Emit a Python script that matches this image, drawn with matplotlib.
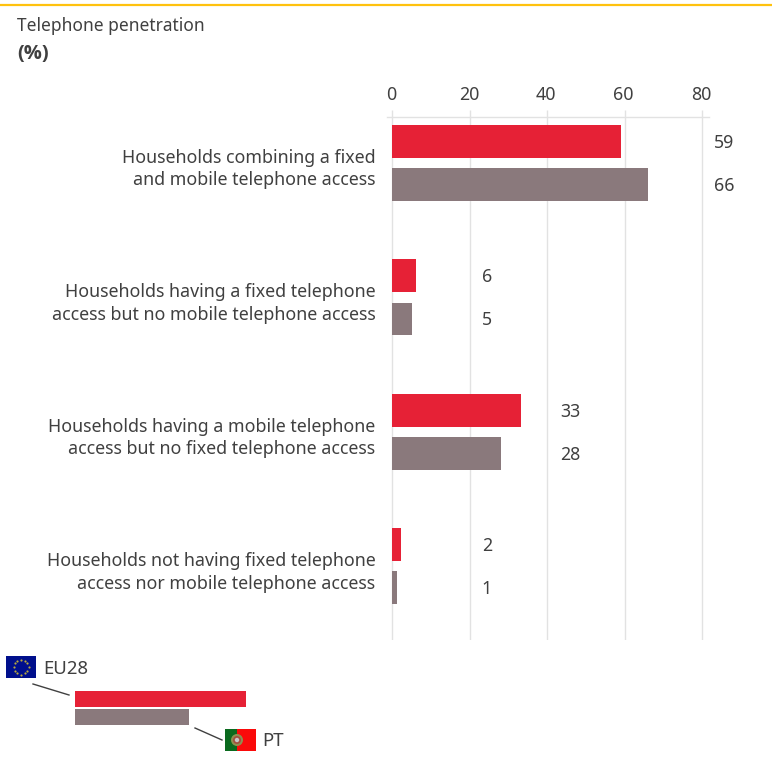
import numpy as np
import matplotlib
matplotlib.use('Agg')
import matplotlib.pyplot as plt
from matplotlib.patches import Rectangle, Circle
from matplotlib.transforms import ScaledTranslation

plt.rcParams['font.family'] = ['Noto Sans', 'DejaVu Sans']

W, H = 772, 760

categories = ['Households combining a fixed\nand mobile telephone access',
              'Households having a fixed telephone\naccess but no mobile telephone access',
              'Households having a mobile telephone\naccess but no fixed telephone access',
              'Households not having fixed telephone\naccess nor mobile telephone access']
eu28 = [59, 6, 33, 2]
pt = [66, 5, 28, 1]
x_ticks = [0, 20, 40, 60, 80]

# bars drawn slightly past the rounded value, as in the original
eu28_exact = [59.1, 6.1, 33.2, 2.3]
pt_exact = [66.1, 5.1, 28.1, 1.2]

RED = '#e62136'
GREY = '#8a797c'
TXT = '#404040'
GRID = '#e2e2e2'

fig = plt.figure(figsize=(W / 100, H / 100), dpi=100)


def box(x0, y0, x1, y1):
    # pixel box (y from the top) to figure fraction
    return [x0 / W, 1 - y1 / H, (x1 - x0) / W, (y1 - y0) / H]


# main chart
ax = fig.add_axes(box(387, 117, 709, 640))
ax.set_xlim(-1.42, 81.8)
ax.set_ylim(3.547, -0.342)
y = np.arange(len(categories))
ax.barh(y - 0.16, eu28_exact, height=0.245, color=RED, zorder=3)
ax.barh(y + 0.16, pt_exact, height=0.245, color=GREY, zorder=3)

for s in ['left', 'right', 'bottom']:
    ax.spines[s].set_visible(False)
ax.spines['top'].set_color(GRID)
ax.spines['top'].set_linewidth(1)
ax.xaxis.tick_top()
ax.set_xticks(x_ticks)
ax.tick_params(axis='x', length=5, width=1, color=GRID, labelcolor=TXT, labelsize=12.8, pad=4)
shift = ScaledTranslation(-1 / 100, 0, fig.dpi_scale_trans)
for lab in ax.get_xticklabels():
    lab.set_transform(lab.get_transform() + shift)
ax.grid(axis='x', color=GRID, linewidth=1, zorder=0)
ax.set_yticks(y)
ax.set_yticklabels([])
ax.tick_params(axis='y', length=0)

label_x = [85.7, 24.4, 45.9, 24.4]
for i in range(len(categories)):
    ax.text(label_x[i], y[i] - 0.15, str(eu28[i]), ha='center', va='center',
            color=TXT, fontsize=12.8, clip_on=False)
    ax.text(label_x[i], y[i] + 0.17, str(pt[i]), ha='center', va='center',
            color=TXT, fontsize=12.8, clip_on=False)
    ax.text(-4.4, y[i] + 0.045, categories[i], ha='right', va='center', color=TXT,
            fontsize=12.8, linespacing=1.32, clip_on=False)

# overlay in pixels for title and legend
ov = fig.add_axes([0, 0, 1, 1], zorder=5)
ov.set_xlim(0, W)
ov.set_ylim(H, 0)
ov.axis('off')
ov.patch.set_alpha(0)

ov.plot([0, W], [4.5, 4.5], color='#ffc20e', lw=1.6, solid_capstyle='butt')
ov.text(17, 26, 'Telephone penetration', color=TXT, fontsize=12.5, va='center')
ov.text(17, 54, '(%)', color=TXT, fontsize=14.5, fontweight='bold', va='center',
        family=['Open Sans', 'DejaVu Sans'])

# legend bars
ov.add_patch(Rectangle((75, 691), 171, 16, color=RED, lw=0))
ov.add_patch(Rectangle((75, 709), 114, 16, color=GREY, lw=0))
ov.plot([33, 69], [684, 695], color=TXT, lw=1)
ov.plot([195, 222], [728, 740], color=TXT, lw=1)
ov.text(43, 669, 'EU28', color=TXT, fontsize=13.4, va='center')
ov.text(262, 741, 'PT', color=TXT, fontsize=13.4, va='center')

# EU flag
ov.add_patch(Rectangle((6, 656), 30, 22, color='#000f8c', lw=0))
a = np.arange(12) * np.pi / 6
ov.scatter(21 + 7.5 * np.cos(a), 667 + 7.5 * np.sin(a), s=2.5, color='#b8a840', lw=0)

# Portuguese flag
ov.add_patch(Rectangle((225, 729), 12, 22, color='#0a6a1e', lw=0))
ov.add_patch(Rectangle((237, 729), 19, 22, color='#fa0a0a', lw=0))
ov.add_patch(Circle((237, 740), 6, color='#8f8f50', lw=0))
ov.add_patch(Circle((237, 740), 4, color='#a05040', lw=0))
ov.add_patch(Circle((237, 740), 2.2, color='#c8c8c8', lw=0))

fig.savefig('out.png', dpi=100)
